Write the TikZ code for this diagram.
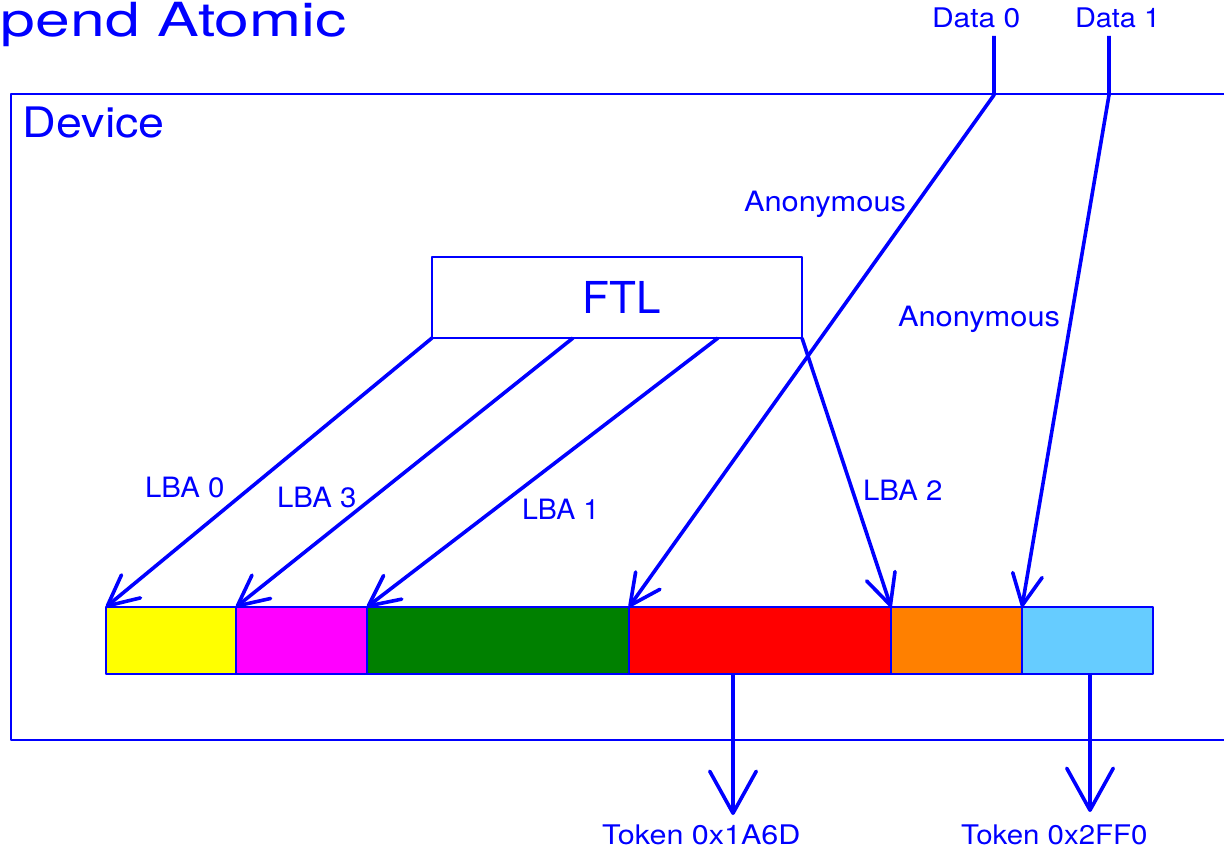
\documentclass[tikz,border=0pt]{standalone}
\usepackage{fontspec}
\setmainfont{TeX Gyre Heros}
\usetikzlibrary{arrows.meta,calc}
\definecolor{segyellow}{HTML}{FFFF00}
\definecolor{segmagenta}{HTML}{FF00FF}
\definecolor{seggreen}{HTML}{008000}
\definecolor{segred}{HTML}{FF0000}
\definecolor{segorange}{HTML}{FF8000}
\definecolor{segblue}{HTML}{66CCFF}
\definecolor{ink}{HTML}{0000FF}
\begin{document}
\begin{tikzpicture}[x=1pt,y=-1pt,line join=round,
  lbl/.style={text=ink, inner sep=0pt, outer sep=0pt, anchor=base west, font=\fontsize{28}{28}\selectfont},
  conn/.style={draw=ink, line width=3.6pt, -{Straight Barb[angle=52:34pt, round]}},
  tokconn/.style={draw=ink, line width=3.6pt, -{Straight Barb[angle=58:48pt, round]}},
  seg/.style={draw=ink, line width=2.8pt, minimum height=67pt, inner sep=0pt, outer sep=0pt, anchor=north west},
]
\useasboundingbox (0,0) rectangle (1224,850);
\clip (0,0) rectangle (1224,850);

% title and device frame
\node[lbl, font=\fontsize{47}{47}\selectfont, xscale=1.33] (title) at (1,37) {pend Atomic};
\node[draw=ink, line width=2.5pt, anchor=north west, minimum width=1240pt, minimum height=646pt, inner sep=0pt, outer sep=0pt] (dev) at (11,94) {};
\node[lbl, font=\fontsize{42}{42}\selectfont, xscale=1.11] (devlbl) at (23,138) {Device};

% FTL
\node[draw=ink, line width=2.5pt, minimum width=370pt, minimum height=81pt, inner sep=0pt, outer sep=0pt, text=ink, font=\fontsize{44}{44}\selectfont] (ftl) at (617,297.5) {\hspace*{10pt}FTL};

% strip of blocks
\node[seg, fill=segyellow,  minimum width=130pt] (s1) at (106,607) {};
\node[seg, fill=segmagenta, minimum width=131pt] (s2) at (236,607) {};
\node[seg, fill=seggreen,   minimum width=262pt] (s3) at (367,607) {};
\node[seg, fill=segred,     minimum width=262pt] (s4) at (629,607) {};
\node[seg, fill=segorange,  minimum width=131pt] (s5) at (891,607) {};
\node[seg, fill=segblue,    minimum width=131pt] (s6) at (1022,607) {};

% data labels
\node[lbl, xscale=1.11, font=\fontsize{27}{27}\selectfont] (d0) at (932,28) {Data 0};
\node[lbl, xscale=1.07, font=\fontsize{27}{27}\selectfont] (d1) at (1075,28) {Data 1};
\coordinate (d0a) at (994,36);
\coordinate (d0b) at (994,95);
\coordinate (d1a) at (1109,36);
\coordinate (d1b) at (1109,95);

% connectors from FTL
\draw[conn] (ftl.south west) -- (s1.north west);
\draw[conn] ([xshift=141pt]ftl.south west) -- (s2.north west);
\draw[conn] ([xshift=286pt]ftl.south west) -- (s3.north west);
\draw[conn] (ftl.south east) -- (s5.north west);

% data connectors
\draw[conn] (d0a) -- (d0b) -- (s4.north west);
\draw[conn] (d1a) -- (d1b) -- (s6.north west);

% tokens
\coordinate (tk1) at (733,815);
\coordinate (tk2) at (1090,812);
\draw[tokconn] ([xshift=104pt]s4.south west) -- (tk1);
\draw[tokconn] ([xshift=68pt]s6.south west) -- (tk2);
\node[lbl, xscale=1.13, font=\fontsize{27}{27}\selectfont] (t1) at (602,844) {Token 0x1A6D};
\node[lbl, xscale=1.09, font=\fontsize{27}{27}\selectfont] (t2) at (961,844) {Token 0x2FF0};

% labels
\node[lbl, xscale=1.1] (an1) at (744,212) {Anonymous};
\node[lbl, xscale=1.1] (an2) at (898,327) {Anonymous};
\node[lbl, xscale=1.05] (l0) at (145,497) {LBA 0};
\node[lbl, xscale=1.05] (l3) at (277,507) {LBA 3};
\node[lbl, xscale=1.02] (l1) at (522,519) {LBA 1};
\node[lbl, xscale=1.05] (l2) at (863,500) {LBA 2};
\end{tikzpicture}
\end{document}
